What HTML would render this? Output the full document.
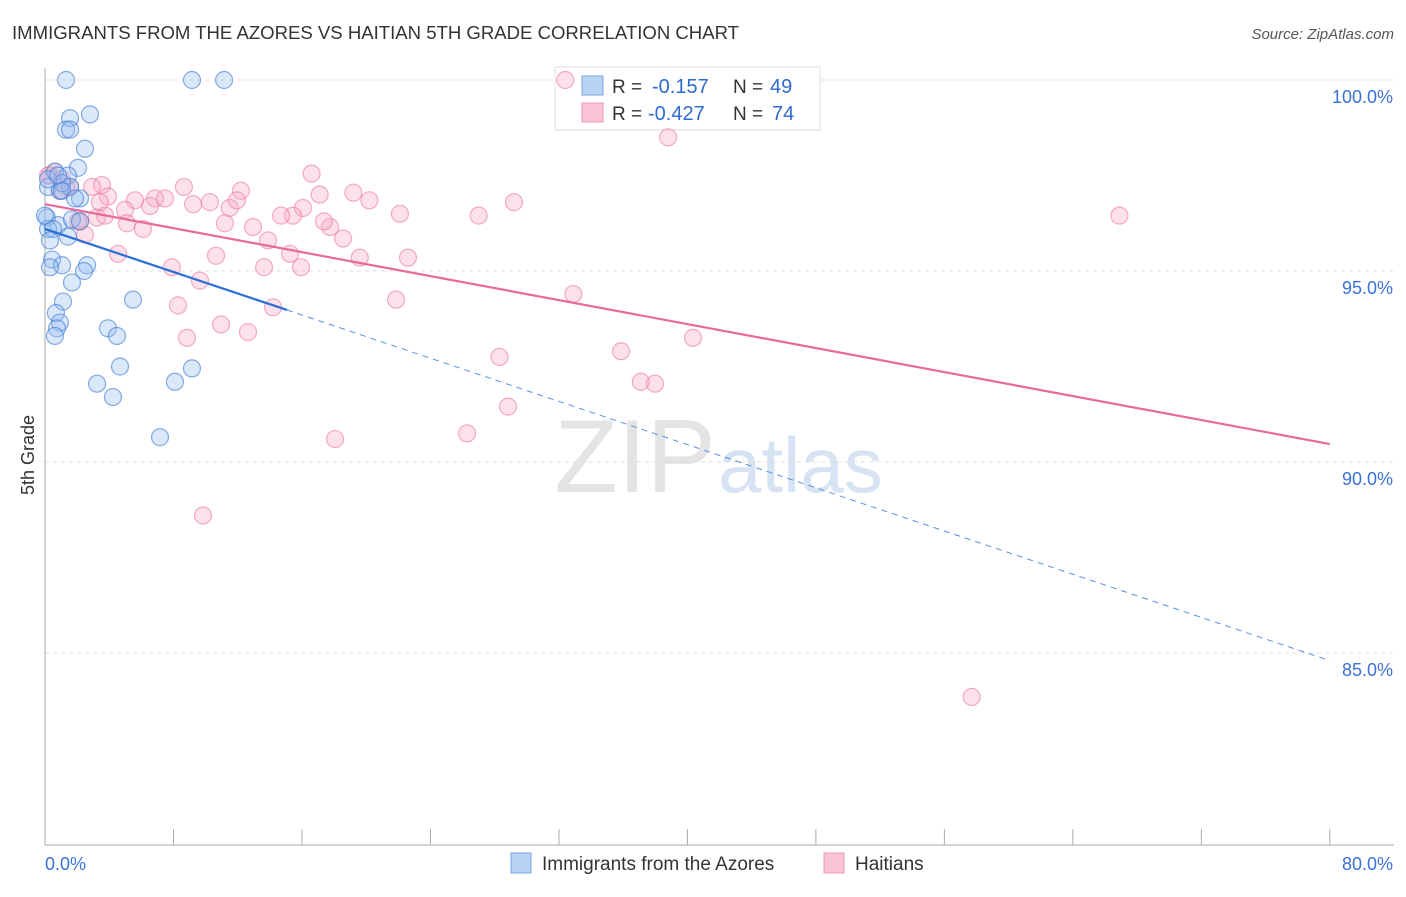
<!DOCTYPE html>
<html><head><meta charset="utf-8"><style>
body{margin:0;background:#fff;font-family:"Liberation Sans",sans-serif;}
svg text{font-family:"Liberation Sans",sans-serif;}
</style></head><body>
<svg id="chart" width="1406" height="892">
<text x="12" y="39" font-size="18" fill="#333" textLength="727" lengthAdjust="spacingAndGlyphs">IMMIGRANTS FROM THE AZORES VS HAITIAN 5TH GRADE CORRELATION CHART</text>
<text x="1394" y="39" font-size="15" fill="#555" font-style="italic" text-anchor="end">Source: ZipAtlas.com</text>
<text x="716" y="492" font-size="104" fill="#e4e4e4" text-anchor="end" font-family="Liberation Serif">ZIP</text>
<text x="718" y="492" font-size="78" fill="#d6e3f3">atlas</text>
<g id="grid"></g><g id="axes"></g>
<g>
<rect x="555" y="67" width="265" height="63" fill="#fff" stroke="#ddd"/>
<rect x="582" y="76" width="21" height="19" fill="#b8d3f4" stroke="#7aa7e0"/>
<rect x="582" y="103" width="21" height="19" fill="#f9c5d4" stroke="#ef97b2"/>
<text x="612" y="93" font-size="19" fill="#333">R =</text>
<text x="652" y="93" font-size="20" fill="#2e6bd1">-0.157</text>
<text x="733" y="93" font-size="19" fill="#333">N =</text>
<text x="770" y="93" font-size="20" fill="#2e6bd1">49</text>
<text x="612" y="120" font-size="19" fill="#333">R =</text>
<text x="648" y="120" font-size="20" fill="#2e6bd1">-0.427</text>
<text x="733" y="120" font-size="19" fill="#333">N =</text>
<text x="772" y="120" font-size="20" fill="#2e6bd1">74</text>
</g>
<g id="pts"></g><g id="lines"></g>
<text transform="translate(34,455) rotate(-90)" font-size="18" fill="#333" text-anchor="middle">5th Grade</text>
<g>
<rect x="511" y="853" width="20" height="20" fill="#b8d3f4" stroke="#7aa7e0"/>
<text x="542" y="870" font-size="19" fill="#333">Immigrants from the Azores</text>
<rect x="824" y="853" width="20" height="20" fill="#f9c5d4" stroke="#ef97b2"/>
<text x="855" y="870" font-size="19" fill="#333">Haitians</text>
</g>
</svg>
<script>
const blueX=[1.31,9.15,11.15,2.80,1.56,1.31,1.56,2.49,2.05,0.62,1.43,0.19,0.93,1.56,1.06,2.18,0.12,0.81,1.68,2.18,0.19,0.50,1.43,0.31,0.44,1.06,2.62,2.43,0.31,1.68,1.12,5.48,0.68,0.93,0.75,0.62,3.92,4.48,4.67,3.24,4.23,8.09,9.15,7.16,0,0.19,1.06,1.87,0.81];
const blueY=[100.0,100.0,100.0,99.1,99.0,98.7,98.7,98.2,97.7,97.6,97.5,97.2,97.1,97.2,97.3,96.9,96.4,96.2,96.35,96.3,96.1,96.1,95.9,95.8,95.3,95.15,95.15,95.0,95.1,94.7,94.2,94.25,93.9,93.65,93.5,93.3,93.5,93.3,92.5,92.05,91.7,92.1,92.45,90.65,96.45,97.4,97.1,96.9,97.5];
const pinkX=[32.4,38.8,66.9,16.6,8.65,12.2,19.2,17.1,20.2,29.2,27.0,22.1,3.55,2.93,3.92,5.6,6.85,7.47,6.54,4.98,9.22,10.27,11.5,11.95,16.06,15.44,14.7,17.75,17.37,12.95,18.56,13.89,11.2,6.1,5.1,3.24,2.49,4.55,10.65,15.26,15.94,13.64,19.6,22.6,7.9,9.65,8.28,14.2,21.86,32.9,10.96,12.64,8.84,28.3,35.87,40.35,37.1,37.98,28.83,26.28,18.06,9.84,57.7,0.62,1.06,0.31,2.18,1.56,2.05,3.74,0.93,1.31,0.19,3.42];
const pinkY=[100,98.5,96.45,97.55,97.2,97.1,97.05,97.0,96.85,96.8,96.45,96.5,97.25,97.2,96.95,96.85,96.9,96.9,96.7,96.6,96.75,96.8,96.65,96.85,96.65,96.45,96.45,96.15,96.3,96.15,95.85,95.8,96.25,96.1,96.25,96.4,95.95,95.45,95.4,95.45,95.1,95.1,95.35,95.35,95.1,94.75,94.1,94.05,94.25,94.4,93.6,93.4,93.25,92.75,92.9,93.25,92.1,92.05,91.45,90.75,90.6,88.6,83.85,97.6,97.4,97.5,96.3,97.2,96.3,96.45,97.1,97.2,97.5,96.8];
const blueTrend=[0,96.1,15.07,93.98,80,84.8];
const pinkTrend=[0,96.75,80,90.47];
const yTicks=[100,95,90,85];
const yTickLabels=["100.0%","95.0%","90.0%","85.0%"];
const xTicks=[0,8,16,24,32,40,48,56,64,72,80];
const NS="http://www.w3.org/2000/svg";
const sx=v=>45+v*16.06;
const sy=v=>80+(100-v)*38.2;
function mk(tag,attrs,parent){const e=document.createElementNS(NS,tag);for(const k in attrs)e.setAttribute(k,attrs[k]);document.getElementById(parent).appendChild(e);return e;}
yTicks.forEach((t,i)=>{
 const l=mk('line',{x1:45,x2:1394,y1:sy(t),y2:sy(t),stroke:'#ddd','stroke-dasharray':'4,4'},'grid');
 
 
 const tx=mk('text',{x:1393,y:sy(t)+23,'font-size':18,fill:'#3a72d8','text-anchor':'end'},'grid');
 tx.textContent=yTickLabels[i];
 
 
});
const ya=mk('line',{x1:45,x2:45,y1:68,y2:845,stroke:'#aaa'},'axes');


const xa=mk('line',{x1:45,x2:1394,y1:845,y2:845,stroke:'#aaa'},'axes');


xTicks.forEach(t=>{
 const l=mk('line',{x1:sx(t),x2:sx(t),y1:829,y2:845,stroke:'#aaa'},'axes');
 
 
});
const xl0=mk('text',{x:45,y:870,'font-size':18,fill:'#3a72d8'},'axes');xl0.textContent='0.0%';


const xl1=mk('text',{x:1393,y:870,'font-size':18,fill:'#3a72d8','text-anchor':'end'},'axes');xl1.textContent='80.0%';


pinkX.forEach((x,i)=>{
 const c=mk('circle',{cx:sx(x),cy:sy(pinkY[i]),r:8.5,fill:'rgba(247,170,195,0.35)',stroke:'rgba(236,120,160,0.6)','stroke-width':1.2},'pts');
 
 
});
blueX.forEach((x,i)=>{
 const c=mk('circle',{cx:sx(x),cy:sy(blueY[i]),r:8.5,fill:'rgba(150,190,240,0.35)',stroke:'rgba(60,120,210,0.6)','stroke-width':1.2},'pts');
 
 
});
const pl=mk('line',{x1:sx(pinkTrend[0]),y1:sy(pinkTrend[1]),x2:sx(pinkTrend[2]),y2:sy(pinkTrend[3]),stroke:'#e8699a','stroke-width':2.2},'lines');


const bl=mk('line',{x1:sx(blueTrend[0]),y1:sy(blueTrend[1]),x2:sx(blueTrend[2]),y2:sy(blueTrend[3]),stroke:'#2a6fd6','stroke-width':2.2},'lines');


const bd=mk('line',{x1:sx(blueTrend[2]),y1:sy(blueTrend[3]),x2:sx(blueTrend[4]),y2:sy(blueTrend[5]),stroke:'#5a8fe0','stroke-width':1,'stroke-dasharray':'6,5'},'lines');


</script>
</body></html>
